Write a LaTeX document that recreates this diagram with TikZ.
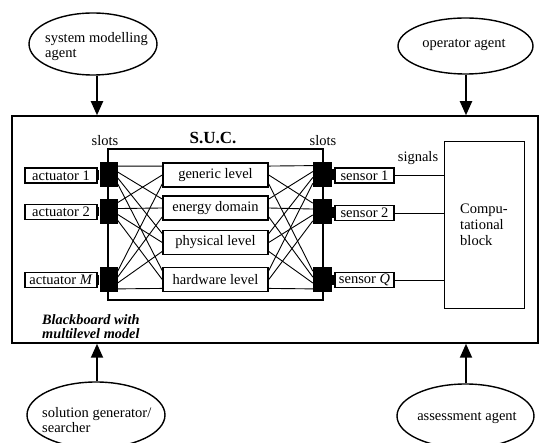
\documentclass[tikz,border=0pt]{standalone}
\usepackage{fontspec}
\setmainfont{Liberation Serif}
\usetikzlibrary{shapes.geometric,arrows.meta,calc}
\tikzset{
  agent/.style={draw, ellipse, line width=1.4pt, inner sep=0pt},
  plain/.style={inner sep=0pt, align=left},
  iobox/.style={draw, line width=1.6pt, rectangle, inner sep=0pt, minimum height=15pt},
  lvlbox/.style={draw, line width=1.5pt, rectangle, inner sep=0pt, minimum width=105pt, minimum height=24pt},
  slotbox/.style={fill=black, draw=none, rectangle, inner sep=0pt, minimum width=18pt, minimum height=25pt},
  arr/.style={line width=2pt, -{Triangle[length=14pt,width=12pt]}},
  wire/.style={line width=0.9pt},
  sig/.style={line width=0.9pt},
}
\begin{document}
\begin{tikzpicture}[x=1pt,y=-1pt,font=\fontsize{14.5pt}{15pt}\selectfont]
\useasboundingbox (0,0) rectangle (539,443);

% main blackboard box
\node[draw, line width=1.5pt, minimum width=526pt, minimum height=227pt, inner sep=0pt] (bb) at (275,229.5) {};

% agents
\node[agent, minimum width=128pt, minimum height=62pt] (sma) at (93,44) {};
\node[plain, anchor=west] (smat) at (45,47) {system modelling\\agent};
\node[agent, minimum width=135pt, minimum height=56pt] (opa) at (465.5,46) {};
\node[plain] (opat) at (464,45) {operator agent};
\node[agent, minimum width=138pt, minimum height=66pt] (sgs) at (96,415) {};
\node[plain, anchor=west] (sgst) at (42,420) {solution generator/\\searcher};
\node[agent, minimum width=137pt, minimum height=64pt] (asa) at (465.5,416) {};
\node[plain] (asat) at (467,418) {assessment agent};

\coordinate (x1) at (97,0);
\coordinate (x2) at (466,0);
\draw[arr] (x1 |- sma.south) -- (x1 |- bb.north);
\draw[arr] (x2 |- opa.south) -- (x2 |- bb.north);
\draw[arr] (x1 |- sgs.north) -- (x1 |- bb.south);
\draw[arr] (x2 |- asa.north) -- (x2 |- bb.south);

% S.U.C. inner box
\node[draw, line width=1.5pt, minimum width=215pt, minimum height=151pt, inner sep=0pt] (suc) at (215.5,224.5) {};
\node[plain, font=\fontsize{17pt}{18pt}\selectfont\bfseries] (suct) at (213,138) {S.U.C.};
\node[plain] (slotl) at (105,141) {slots};
\node[plain] (slotr) at (323,141) {slots};

% level boxes
\node[lvlbox] (g1) at (215.5,175) {generic level};
\node[lvlbox] (g2) at (215.5,208) {energy domain};
\node[lvlbox] (g3) at (215.5,242.5) {physical level};
\node[lvlbox] (g4) at (215.5,279.5) {hardware level};

% slots
\node[slotbox] (L1) at (108.5,175) {};
\node[slotbox] (L2) at (108.5,211.5) {};
\node[slotbox] (L3) at (108.5,280) {};
\node[slotbox, minimum width=19pt] (R1) at (322.5,174.5) {};
\node[slotbox, minimum width=19pt] (R2) at (322.5,212) {};
\node[slotbox, minimum width=19pt] (R3) at (322.5,280) {};

% crossbar wires
\foreach \s [count=\i from 0] in {L1,L2,L3} {
  \foreach \b [count=\j from 0] in {g1,g2,g3,g4} {
    \pgfmathsetmacro\fs{0.15+0.7*\j/3}
    \pgfmathsetmacro\fb{0.15+0.7*\i/2}
    \draw[wire] ($(\s.north east)!\fs!(\s.south east)$) -- ($(\b.north west)!\fb!(\b.south west)$);
  }
}
\foreach \s [count=\i from 0] in {R1,R2,R3} {
  \foreach \b [count=\j from 0] in {g1,g2,g3,g4} {
    \pgfmathsetmacro\fs{0.15+0.7*\j/3}
    \pgfmathsetmacro\fb{0.15+0.7*\i/2}
    \draw[wire] ($(\b.north east)!\fb!(\b.south east)$) -- ($(\s.north west)!\fs!(\s.south west)$);
  }
}

% actuators
\node[iobox, minimum width=72pt] (a1) at (61,175.5) {actuator 1};
\node[iobox, minimum width=72pt] (a2) at (61,212) {actuator 2};
\node[iobox, minimum width=72pt] (a3) at (61,280) {actuator \textit{M}};
\foreach \a/\s in {a1/L1,a2/L2,a3/L3} {
  \fill ($(\a.east)+(0,-5)$) rectangle ($(\s.west)+(0,5)$);
}

% sensors
\node[iobox, minimum width=59pt] (s1) at (364.5,175.5) {sensor 1};
\node[iobox, minimum width=59pt] (s2) at (364.5,213) {sensor 2};
\node[iobox, minimum width=59pt] (s3) at (364.5,280) {sensor \textit{Q}};
\foreach \a/\s in {s1/R1,s2/R2,s3/R3} {
  \fill ($(\s.east)+(0,-5)$) rectangle ($(\a.west)+(0,5)$);
}

% computational block
\node[draw, line width=0.9pt, minimum width=80pt, minimum height=167pt, inner sep=0pt, align=left, font=\fontsize{14.5pt}{16pt}\selectfont] (comp) at (484,224.5) {Compu-\\tational\\block};
\node[plain] (sigt) at (418,158) {signals};
\foreach \a in {s1,s2,s3} {
  \draw[sig] (\a.east) -- (\a.east -| comp.west);
}

% blackboard label
\node[plain, anchor=west, font=\fontsize{14.3pt}{14pt}\selectfont\bfseries\itshape] (bbt) at (42,326.5) {Blackboard with\\multilevel model};
\end{tikzpicture}
\end{document}
